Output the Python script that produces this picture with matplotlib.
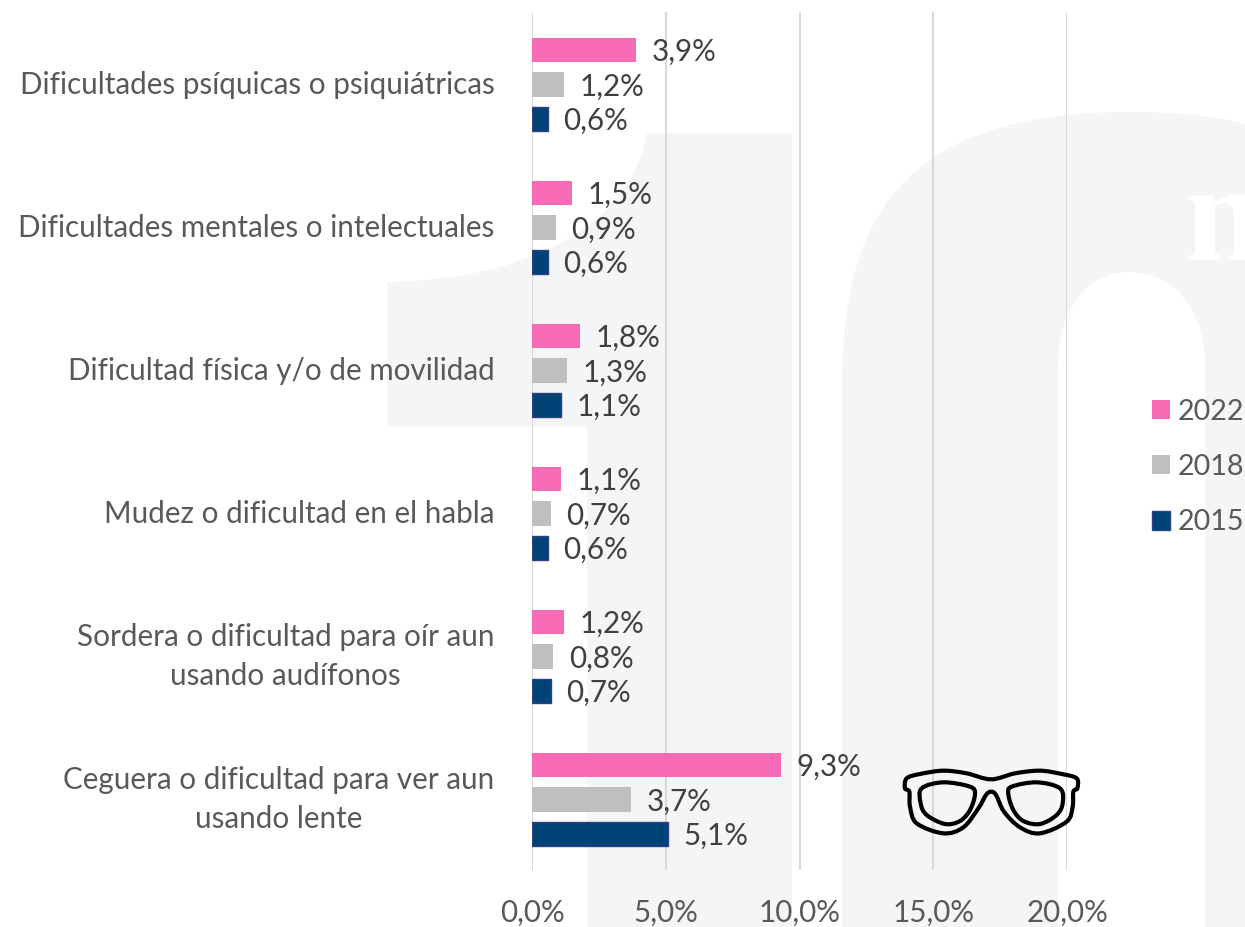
import numpy as np
import matplotlib
matplotlib.use("Agg")
import matplotlib.pyplot as plt
from matplotlib.path import Path
from matplotlib.patches import PathPatch
from matplotlib.textpath import TextPath
from matplotlib.font_manager import FontProperties
from matplotlib.transforms import Affine2D

plt.rcParams['font.family'] = ['Lato', 'DejaVu Sans']

# Data, top group first
categories = ["Dificultades psíquicas o psiquiátricas",
              "Dificultades mentales o intelectuales",
              "Dificultad física y/o de movilidad",
              "Mudez o dificultad en el habla",
              "Sordera o dificultad para oír aun\nusando audífonos",
              "Ceguera o dificultad para ver aun\nusando lente"]
values_2022 = [3.9, 1.5, 1.8, 1.1, 1.2, 9.3]
values_2018 = [1.2, 0.9, 1.3, 0.7, 0.8, 3.7]
values_2015 = [0.6, 0.6, 1.1, 0.6, 0.7, 5.1]
xticks = [0, 5, 10, 15, 20]

W, H = 1245, 927
FS = 21.3
fig = plt.figure(figsize=(W / 100, H / 100), dpi=100, facecolor="white")

# Background layer in pixel coordinates (faded "10" logo)
bg = fig.add_axes([0, 0, 1, 1], zorder=0)
bg.set_xlim(0, W)
bg.set_ylim(H, 0)
bg.axis("off")

M, L, C, Z = Path.MOVETO, Path.LINETO, Path.CURVE4, Path.CLOSEPOLY
logo = "#f4f5f7"

one_pts = [(647, 133), (792, 133), (792, 927), (587, 927), (587, 427), (387, 427), (387, 282),
           (520, 280), (630, 230), (647, 133), (647, 133)]
one_cmd = [M, L, L, L, L, L, L, C, C, C, Z]
bg.add_patch(PathPatch(Path(one_pts, one_cmd), fc=logo, ec="none"))

zero_pts = [(842, 927), (842, 383), (842, 200), (920, 112), (1130, 112),
            (1175, 112), (1215, 116), (1245, 124), (1245, 927),
            (1205, 927), (1205, 367), (1205, 310), (1175, 272), (1130, 272),
            (1085, 272), (1058, 310), (1058, 367), (1058, 927), (842, 927)]
zero_cmd = [M, L, C, C, C, C, C, C, L, L, L, C, C, C, C, C, C, L, Z]
bg.add_patch(PathPatch(Path(zero_pts, zero_cmd), fc=logo, ec="none"))

# White serif letter of the logo at the right edge
m_path = TextPath((0, 0), "m", size=140, prop=FontProperties(family="Liberation Serif", weight="bold"))
m_patch = PathPatch(m_path, fc="white", ec="none",
                    transform=Affine2D().scale(1, -1).translate(1185, 260) + bg.transData)
bg.add_patch(m_patch)

# Main chart
ax = fig.add_axes([532 / W, 1 - 870 / H, (1067 - 532) / W, (870 - 12) / H], zorder=1)
ax.patch.set_visible(False)
for s in ax.spines.values():
    s.set_visible(False)

y = np.arange(len(categories))
off = 0.24
h = 0.168
b22 = ax.barh(y - off, values_2022, height=h, color="#f76bb5", label="2022")
b18 = ax.barh(y, values_2018, height=h, color="#bfbfbf", label="2018")
b15 = ax.barh(y + off, values_2015, height=h, color="#004477", edgecolor="#2f3f80", linewidth=1, label="2015")

for bars, vals in [(b22, values_2022), (b18, values_2018), (b15, values_2015)]:
    labels = ax.bar_label(bars, labels=[f"{v:.1f}%".replace(".", ",") for v in vals],
                          padding=11, fontsize=FS, color="#404040")
    for t in labels:
        t.xyann = (t.xyann[0], t.xyann[1] - 1.5)

ax.set_xlim(0, 20)
ax.set_ylim(5.493, -0.507)
ax.set_xticks(xticks)
ax.set_xticklabels([f"{t:.1f}%".replace(".", ",") for t in xticks], fontsize=FS, color="#595959")
ax.set_yticks(y)
ax.set_yticklabels(categories, fontsize=FS, color="#595959", linespacing=1.45,
                   multialignment="center", va="center")
ax.tick_params(axis="both", length=0)
ax.tick_params(axis="x", pad=21)
ax.tick_params(axis="y", pad=27)
ax.grid(axis="x", color="#d9d9d9", linewidth=1.5)
ax.set_axisbelow(True)

fig.legend(handles=[b22, b18, b15], loc="center left", bbox_to_anchor=(1152 / W, 1 - 467 / H),
           frameon=False, fontsize=20.6, labelcolor="#595959", handlelength=0.64, handleheight=0.64,
           handletextpad=0.26, labelspacing=1.03, borderpad=0, borderaxespad=0)

# Glasses icon, outline points
top = fig.add_axes([0, 0, 1, 1], zorder=2)
top.set_xlim(0, W)
top.set_ylim(H, 0)
top.axis("off")
top.patch.set_visible(False)


def smooth_closed(points):
    # closed Catmull-Rom curve through the points, as a bezier path
    p = np.array(points, dtype=float) / 3 + [880, 740]
    n = len(p)
    verts = [p[0]]
    codes = [M]
    for i in range(n):
        p0, p1, p2, p3 = p[i - 1], p[i], p[(i + 1) % n], p[(i + 2) % n]
        verts += [p1 + (p2 - p0) / 6, p2 - (p3 - p1) / 6, p2]
        codes += [C, C, C]
    return Path(verts, codes)


frame = [(333, 118), (260, 100), (190, 92), (120, 102), (80, 115), (75, 145), (88, 155), (90, 200),
         (110, 250), (190, 280), (250, 262), (295, 205), (318, 165), (333, 155), (348, 165),
         (372, 215), (420, 262), (480, 280), (560, 245), (578, 200), (580, 155), (592, 145),
         (590, 115), (545, 102), (480, 92), (405, 100)]
lens_l = [(125, 145), (190, 127), (270, 140), (285, 162), (270, 210), (240, 243), (195, 252),
          (140, 225), (122, 190)]
lens_r = [(395, 140), (470, 127), (540, 145), (548, 190), (530, 225), (480, 252), (430, 243),
          (400, 210), (385, 162)]
for pts in (frame, lens_l, lens_r):
    top.add_patch(PathPatch(smooth_closed(pts), fc="none", ec="black", lw=3, joinstyle="round"))

fig.savefig("out.png", dpi=100)
